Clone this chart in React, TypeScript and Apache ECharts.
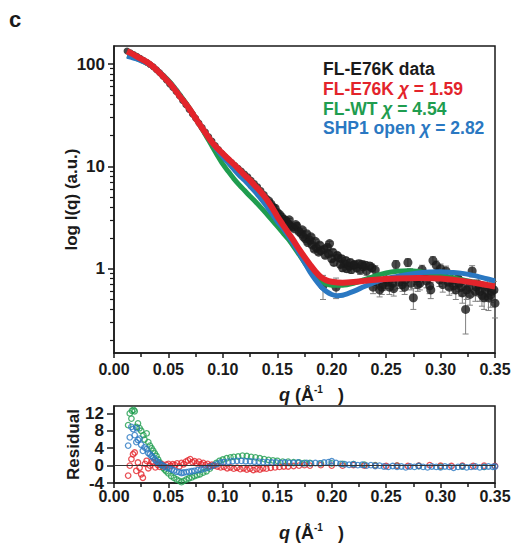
import React, { useEffect, useRef } from "react";
import * as echarts from "echarts";

const FONT = '"Liberation Sans", Arial, Helvetica, sans-serif';
const INK = "#1a1a1a";
const RED = "#e3242b";
const GREEN = "#1f9d4f";
const BLUE = "#2a78c2";

// axis ticks
const logMajorTicks = [1, 10, 100];
const logMinorTicks = [0.2, 0.3, 0.4, 0.5, 0.6, 0.7, 0.8, 0.9, 2, 3, 4, 5, 6, 7, 8, 9, 20, 30, 40, 50, 60, 70, 80, 90];
const residualTicks = [-4, 0, 4, 8, 12];

// legend lines
const legendRows = [
  { label: "FL-E76K data", chi: "", color: INK },
  { label: "FL-E76K", chi: "1.59", color: RED },
  { label: "FL-WT", chi: "4.54", color: GREEN },
  { label: "SHP1 open", chi: "2.82", color: BLUE },
];

// measured data: q (1/Å), I(q)
const dataLowQ = [
  [0.012, 134], [0.015, 129], [0.018, 124], [0.021, 119], [0.024, 114], [0.027, 109], [0.030, 104],
  [0.033, 99], [0.036, 94], [0.039, 88], [0.042, 82], [0.045, 76], [0.048, 70], [0.051, 64],
  [0.054, 59], [0.057, 54], [0.060, 49], [0.063, 44], [0.066, 40], [0.069, 36], [0.072, 32.5],
  [0.075, 29.5], [0.078, 26.5], [0.081, 24], [0.084, 21.6], [0.087, 19.5], [0.090, 17.7], [0.093, 16.0],
  [0.096, 14.6], [0.099, 13.4], [0.102, 12.4], [0.105, 11.6], [0.108, 10.9], [0.111, 10.2], [0.114, 9.6],
  [0.117, 9.0], [0.120, 8.4], [0.123, 7.9], [0.126, 7.3], [0.129, 6.8], [0.132, 6.3], [0.135, 5.8],
  [0.138, 5.3], [0.140, 4.9],
];

// measured data with error: q, I(q), error
const dataHighQ = [
  [0.142, 4.6, 0.15], [0.144, 4.3, 0.14], [0.146, 4.0, 0.13], [0.148, 3.9, 0.12], [0.150, 3.55, 0.12],
  [0.152, 3.4, 0.11], [0.154, 3.2, 0.11], [0.156, 3.05, 0.1], [0.158, 2.95, 0.1], [0.160, 2.75, 0.1],
  [0.162, 2.6, 0.09], [0.164, 2.55, 0.09], [0.166, 2.45, 0.09], [0.168, 2.6, 0.09], [0.170, 2.3, 0.09],
  [0.172, 2.2, 0.08], [0.174, 2.05, 0.08], [0.176, 1.95, 0.08], [0.178, 1.8, 0.08], [0.180, 1.9, 0.08],
  [0.182, 1.7, 0.08], [0.184, 1.55, 0.08], [0.186, 1.6, 0.08], [0.188, 1.45, 0.08], [0.190, 1.5, 0.08],
  [0.192, 0.68, 0.18], [0.194, 1.35, 0.08], [0.196, 1.62, 0.09], [0.198, 1.76, 0.09], [0.200, 1.25, 0.08],
  [0.202, 1.15, 0.08], [0.204, 0.66, 0.15], [0.206, 1.28, 0.08], [0.208, 1.1, 0.08], [0.210, 1.02, 0.08],
  [0.212, 1.12, 0.08], [0.214, 1.0, 0.08], [0.216, 1.06, 0.08], [0.218, 0.98, 0.08], [0.220, 1.08, 0.08],
  [0.223, 1.02, 0.09], [0.226, 0.97, 0.09], [0.229, 1.05, 0.09], [0.232, 0.95, 0.09], [0.235, 1.06, 0.09],
  [0.238, 0.66, 0.09], [0.241, 0.74, 0.09], [0.244, 0.62, 0.09], [0.247, 0.7, 0.09], [0.250, 0.78, 0.1],
  [0.253, 0.66, 0.1], [0.256, 0.72, 0.1], [0.259, 1.1, 0.1], [0.262, 0.74, 0.1], [0.265, 0.7, 0.1],
  [0.268, 0.78, 0.1], [0.270, 1.15, 0.1], [0.273, 0.72, 0.1], [0.275, 0.52, 0.12], [0.278, 0.8, 0.1],
  [0.281, 0.72, 0.1], [0.284, 0.88, 0.1], [0.287, 0.76, 0.11], [0.290, 0.68, 0.11], [0.293, 1.2, 0.11],
  [0.296, 1.08, 0.11], [0.299, 0.78, 0.11], [0.302, 0.7, 0.11], [0.305, 0.95, 0.11], [0.308, 0.66, 0.11],
  [0.311, 0.78, 0.11], [0.314, 0.62, 0.12], [0.317, 0.72, 0.12], [0.320, 0.58, 0.12], [0.323, 0.4, 0.17],
  [0.326, 0.66, 0.12], [0.329, 0.95, 0.12], [0.332, 0.6, 0.12], [0.335, 0.7, 0.12], [0.338, 0.55, 0.12],
  [0.341, 0.62, 0.12], [0.344, 0.52, 0.13], [0.347, 0.6, 0.13], [0.350, 0.46, 0.13],
  [0.161, 3.0, 0.1], [0.167, 2.7, 0.1], [0.173, 2.4, 0.09], [0.177, 2.2, 0.09], [0.181, 2.05, 0.09],
  [0.185, 1.85, 0.09], [0.189, 1.7, 0.09], [0.193, 1.55, 0.09], [0.197, 1.4, 0.09], [0.201, 1.45, 0.09],
  [0.205, 1.35, 0.09], [0.209, 1.25, 0.09], [0.213, 1.2, 0.09], [0.217, 1.15, 0.09], [0.221, 1.1, 0.09],
  [0.225, 1.12, 0.09], [0.228, 1.1, 0.09], [0.231, 1.08, 0.09], [0.237, 1.02, 0.09], [0.240, 0.97, 0.1],
  [0.246, 0.66, 0.1], [0.252, 0.74, 0.1], [0.257, 0.64, 0.1], [0.264, 0.82, 0.1], [0.267, 0.66, 0.1],
  [0.272, 0.9, 0.1], [0.279, 0.7, 0.1], [0.283, 0.98, 0.1], [0.288, 0.85, 0.11], [0.291, 0.62, 0.11],
  [0.297, 0.9, 0.11], [0.300, 1.0, 0.11], [0.303, 0.82, 0.11], [0.307, 0.74, 0.11], [0.312, 0.68, 0.11],
  [0.316, 0.8, 0.12], [0.319, 0.66, 0.12], [0.324, 0.62, 0.12], [0.327, 0.56, 0.12], [0.333, 0.66, 0.12],
  [0.336, 0.6, 0.12], [0.340, 0.52, 0.12], [0.343, 0.66, 0.12], [0.346, 0.55, 0.13], [0.349, 0.62, 0.13],
];

// model fits: q, I(q)
const fitE76K = [
  [0.012, 133], [0.016, 127], [0.02, 120], [0.025, 112], [0.03, 105], [0.035, 96], [0.04, 86], [0.045, 76],
  [0.05, 67], [0.055, 58], [0.06, 49], [0.065, 42], [0.07, 35.5], [0.075, 29.5], [0.08, 24.5], [0.085, 20.5],
  [0.09, 17.2], [0.095, 15.0], [0.1, 13.3], [0.105, 11.8], [0.11, 10.5], [0.115, 9.3], [0.12, 8.2],
  [0.125, 7.3], [0.13, 6.4], [0.135, 5.6], [0.14, 4.8], [0.145, 4.0], [0.15, 3.25], [0.155, 2.7],
  [0.16, 2.25], [0.165, 1.88], [0.17, 1.55], [0.175, 1.3], [0.18, 1.1], [0.185, 0.94], [0.19, 0.83],
  [0.195, 0.77], [0.2, 0.745], [0.21, 0.73], [0.22, 0.74], [0.23, 0.76], [0.24, 0.78], [0.26, 0.8],
  [0.28, 0.81], [0.3, 0.8], [0.32, 0.76], [0.34, 0.7], [0.35, 0.67],
];
const fitWT = [
  [0.012, 121], [0.016, 118], [0.02, 114], [0.025, 108], [0.03, 102], [0.035, 95], [0.04, 87], [0.045, 78],
  [0.05, 69], [0.055, 60], [0.06, 51], [0.065, 43], [0.07, 36], [0.075, 29.5], [0.08, 24], [0.085, 19.5],
  [0.09, 15.8], [0.095, 12.8], [0.1, 10.5], [0.105, 8.9], [0.11, 7.6], [0.115, 6.6], [0.12, 5.8],
  [0.125, 5.1], [0.13, 4.5], [0.135, 3.95], [0.14, 3.45], [0.145, 3.0], [0.15, 2.6], [0.155, 2.25],
  [0.16, 1.95], [0.165, 1.65], [0.17, 1.38], [0.175, 1.15], [0.18, 0.97], [0.185, 0.84], [0.19, 0.76],
  [0.195, 0.71], [0.2, 0.69], [0.21, 0.69], [0.22, 0.72], [0.23, 0.78], [0.24, 0.85], [0.25, 0.91],
  [0.26, 0.945], [0.27, 0.955], [0.28, 0.94], [0.29, 0.9], [0.3, 0.86], [0.32, 0.78], [0.34, 0.7], [0.35, 0.67],
];
const fitOpen = [
  [0.012, 119], [0.016, 116], [0.02, 113], [0.025, 108], [0.03, 102], [0.035, 95], [0.04, 87], [0.045, 77],
  [0.05, 68], [0.055, 59], [0.06, 50], [0.065, 42], [0.07, 35.5], [0.075, 29.5], [0.08, 24.5], [0.085, 20.3],
  [0.09, 17], [0.095, 14.4], [0.1, 12.4], [0.105, 10.8], [0.11, 9.4], [0.115, 8.2], [0.12, 7.3],
  [0.125, 6.4], [0.13, 5.6], [0.135, 4.8], [0.14, 4.1], [0.145, 3.45], [0.15, 2.9], [0.155, 2.5],
  [0.16, 2.1], [0.165, 1.75], [0.17, 1.42], [0.175, 1.15], [0.18, 0.93], [0.185, 0.78], [0.19, 0.67],
  [0.195, 0.6], [0.2, 0.56], [0.205, 0.545], [0.21, 0.55], [0.22, 0.6], [0.23, 0.67], [0.24, 0.74],
  [0.25, 0.8], [0.26, 0.84], [0.27, 0.88], [0.28, 0.91], [0.29, 0.93], [0.3, 0.935], [0.31, 0.92],
  [0.32, 0.9], [0.33, 0.86], [0.34, 0.81], [0.35, 0.76],
];

// residuals: q, residual
const residWT = [
  [0.013, 9.3], [0.0145, 12], [0.016, 10.8], [0.0165, 12.6], [0.018, 12.8], [0.019, 12.5], [0.0205, 8.9],
  [0.022, 9.7], [0.0235, 8.6], [0.025, 8.0], [0.027, 7.0], [0.028, 6.0], [0.03, 7.4], [0.0315, 5.4],
  [0.033, 4.6], [0.0345, 4.0], [0.036, 3.4], [0.0375, 2.8], [0.039, 2.2], [0.0405, 1.4], [0.042, 0.7],
  [0.0435, 0.1], [0.045, -0.5], [0.0465, -0.9], [0.048, -1.3], [0.05, -1.8], [0.0525, -2.4], [0.055, -2.8],
  [0.0575, -3.2], [0.06, -3.5], [0.062, -3.8], [0.064, -3.5], [0.0665, -3.2], [0.069, -2.9], [0.0715, -2.7],
  [0.074, -2.4], [0.0765, -2.2], [0.079, -2.0], [0.082, -1.6], [0.085, -1.3], [0.088, -0.7], [0.091, 0],
  [0.094, 0.6], [0.097, 1.1], [0.1, 1.4], [0.1035, 1.7], [0.107, 1.9], [0.11, 2.0], [0.114, 2.1],
  [0.118, 2.3], [0.122, 2.2], [0.126, 2.0], [0.13, 1.9], [0.134, 1.7], [0.138, 1.5], [0.142, 1.3],
  [0.146, 1.2], [0.15, 1.1], [0.155, 0.9], [0.16, 0.9], [0.165, 0.8], [0.17, 0.7], [0.175, 0.6],
  [0.18, 0.6], [0.19, 0.5], [0.2, 0.5], [0.21, 0.4], [0.22, 0.3], [0.23, 0.2], [0.24, 0.1], [0.26, 0],
  [0.28, -0.1], [0.3, -0.2], [0.32, -0.2], [0.34, -0.3],
];
const residE76K = [
  [0.013, -2.3], [0.0145, 0], [0.016, 1.5], [0.0175, 2.6], [0.019, 3.0], [0.0205, -1.2], [0.022, 0.7],
  [0.0235, -0.5], [0.025, -2.0], [0.0265, -2.8], [0.0285, 0.4], [0.03, 1.1], [0.0315, -0.6], [0.033, 0],
  [0.0345, 0.9], [0.036, 0.7], [0.038, -0.4], [0.04, 0.2], [0.042, -0.3], [0.044, 0.3], [0.046, -0.2],
  [0.048, 0.2], [0.05, 0.4], [0.052, -0.1], [0.054, 0.3], [0.056, 0.1], [0.058, 0.5], [0.06, -0.2],
  [0.062, 0.6], [0.064, 0.3], [0.066, 0.9], [0.068, 1.2], [0.07, 1.5], [0.072, 0.8], [0.074, 1.0],
  [0.076, 0.5], [0.078, 0.9], [0.08, 0.3], [0.082, 0.6], [0.084, 0.1], [0.086, 0.4], [0.088, -0.1],
  [0.09, 0.2], [0.092, 0], [0.095, -0.2], [0.098, -0.4], [0.101, -0.3], [0.104, -0.6], [0.107, -0.4],
  [0.11, -0.7], [0.113, -0.5], [0.116, -0.8], [0.119, -0.6], [0.122, -0.9], [0.125, -0.7], [0.128, -1.0],
  [0.131, -0.8], [0.134, -0.9], [0.137, -0.6], [0.14, -0.7], [0.144, -0.5], [0.148, -0.4], [0.152, -0.3],
  [0.156, -0.2], [0.16, -0.2], [0.165, -0.1], [0.17, 0], [0.175, 0.1], [0.18, 0], [0.19, 0.1], [0.2, 0],
  [0.21, 0], [0.22, 0.1], [0.23, 0], [0.24, 0], [0.25, -0.1], [0.26, 0], [0.27, -0.1], [0.28, 0],
  [0.29, 0.1], [0.3, 0], [0.31, -0.1], [0.32, 0], [0.33, -0.1], [0.34, 0], [0.35, -0.1],
];
const residOpen = [
  [0.013, 4.6], [0.0145, 6.5], [0.016, 8.9], [0.0175, 8.4], [0.019, 7.0], [0.0205, 5.4], [0.021, 8.6],
  [0.022, 5.9], [0.0235, 6.2], [0.025, 4.8], [0.0265, 3.4], [0.028, 4.2], [0.03, 3.8], [0.0315, 2.9],
  [0.033, 2.6], [0.0345, 2.2], [0.036, 1.9], [0.0375, 1.4], [0.039, 1.0], [0.0405, 0.7], [0.042, 0.4],
  [0.0435, 0.2], [0.045, 0], [0.047, -0.3], [0.049, -0.5], [0.051, -0.7], [0.053, -0.9], [0.055, -1.1],
  [0.0575, -1.4], [0.06, -1.5], [0.062, -1.7], [0.064, -1.6], [0.0665, -1.5], [0.069, -1.4], [0.0715, -1.3],
  [0.074, -1.2], [0.077, -1.0], [0.08, -0.9], [0.083, -0.7], [0.086, -0.5], [0.089, -0.2], [0.092, 0.1],
  [0.095, 0.4], [0.098, 0.7], [0.101, 0.8], [0.105, 0.9], [0.109, 1.0], [0.113, 1.1], [0.117, 1.1],
  [0.121, 1.0], [0.125, 1.0], [0.129, 0.9], [0.133, 0.9], [0.137, 0.8], [0.141, 0.8], [0.145, 0.7],
  [0.149, 0.7], [0.153, 0.6], [0.157, 0.7], [0.161, 0.6], [0.165, 0.6], [0.169, 0.7], [0.173, 0.5],
  [0.177, 0.6], [0.181, 0.5], [0.185, 0.6], [0.189, 0.5], [0.193, 0.7], [0.197, 0.8], [0.2, 1.0],
  [0.204, 0.6], [0.208, 0.4], [0.212, 0.3], [0.216, 0.2], [0.22, 0.3], [0.224, 0.1], [0.228, 0.2],
  [0.232, 0], [0.236, 0.1], [0.24, -0.1], [0.244, 0], [0.248, -0.2], [0.252, -0.3], [0.256, -0.1],
  [0.26, -0.3], [0.264, -0.2], [0.268, -0.4], [0.272, -0.2], [0.276, -0.3], [0.28, -0.1], [0.284, -0.3],
  [0.288, -0.4], [0.292, -0.2], [0.296, -0.3], [0.3, -0.4], [0.304, -0.2], [0.308, -0.3], [0.312, -0.5],
  [0.316, -0.3], [0.32, -0.2], [0.324, -0.4], [0.328, -0.3], [0.332, -0.2], [0.336, -0.4], [0.34, -0.3],
  [0.344, -0.2], [0.348, -0.3], [0.35, -0.2],
];

const axisLineStyle = { color: INK, width: 1.5 };
const labelStyle = (size: number) => ({
  fontFamily: FONT,
  fontWeight: "bold" as const,
  fontSize: size,
  color: INK,
});

const qNameRich = {
  i: { fontFamily: FONT, fontWeight: "bold", fontStyle: "italic", fontSize: 18, color: INK, lineHeight: 22 },
  n: { fontFamily: FONT, fontWeight: "bold", fontSize: 18, color: INK, lineHeight: 22 },
  s: { fontFamily: FONT, fontWeight: "bold", fontSize: 10, color: INK, lineHeight: 22, verticalAlign: "top" },
};
const qName = "{i|q}{n| (Å}{s|-1}{n|   )}";

function xAxisFor(grid: number, labelMargin: number, nameGap: number) {
  return {
    gridIndex: grid,
    type: "value",
    min: 0,
    max: 0.35,
    interval: 0.05,
    axisLine: { show: true, onZero: false, lineStyle: axisLineStyle },
    axisTick: { show: true, length: 5, lineStyle: { color: INK, width: 1.5 } },
    minorTick: { show: true, splitNumber: 2, length: 4, lineStyle: { color: INK, width: 1.5 } },
    splitLine: { show: false },
    axisLabel: {
      ...labelStyle(16),
      margin: labelMargin,
      showMinLabel: true,
      showMaxLabel: true,
      formatter: (v: number) => v.toFixed(2),
    },
    name: qName,
    nameLocation: "middle",
    nameGap,
    nameMoveOverlap: false,
    nameTextStyle: { rich: qNameRich, padding: [0, 0, 0, 14] },
  };
}

function legendGraphics() {
  const baseY = [69, 89, 108.5, 128];
  return legendRows.map((row, i) => {
    const tok = { fontFamily: FONT, fontWeight: "bold", fontSize: 17.5, fill: row.color };
    const text = row.chi ? `{n|${row.label} }{c|χ}{n| = ${row.chi}}` : `{n|${row.label}}`;
    return {
      type: "text",
      x: 323,
      y: baseY[i],
      style: {
        text,
        fill: row.color,
        fontFamily: FONT,
        fontWeight: "bold",
        fontSize: 17.5,
        verticalAlign: "middle",
        rich: { n: tok, c: { ...tok, fontStyle: "italic" } },
      },
    };
  });
}

export default function App() {
  const ref = useRef<HTMLDivElement>(null);
  useEffect(() => {
    if (!ref.current) return;
    const chart = echarts.init(ref.current, undefined, { renderer: "svg" });
    const option: any = {
      animation: false,
      backgroundColor: "#ffffff",
      grid: [
        { left: 114, top: 46, width: 381, height: 307, show: true, borderColor: INK, borderWidth: 1.5, backgroundColor: "transparent" },
        { left: 114, top: 406, width: 381, height: 77, show: true, borderColor: INK, borderWidth: 1.5, backgroundColor: "transparent" },
      ],
      xAxis: [xAxisFor(0, 8, 31), xAxisFor(1, 5, 39)],
      yAxis: [
        {
          gridIndex: 0,
          type: "log",
          logBase: 10,
          min: 0.15,
          max: 150,
          position: "left",
          axisLine: { show: true, lineStyle: axisLineStyle },
          axisTick: { show: true, length: 6, customValues: logMajorTicks, lineStyle: { color: INK, width: 1.5 } },
          axisLabel: { ...labelStyle(17), margin: 9, customValues: logMajorTicks, formatter: (v: number) => String(v) },
          splitLine: { show: false },
          name: "log I(q) (a.u.)",
          nameLocation: "middle",
          nameGap: 34,
          nameMoveOverlap: false,
          nameTextStyle: labelStyle(17),
        },
        {
          gridIndex: 0,
          type: "log",
          logBase: 10,
          min: 0.15,
          max: 150,
          position: "left",
          axisLine: { show: false },
          axisTick: { show: true, length: 4, customValues: logMinorTicks, lineStyle: { color: INK, width: 1.2 } },
          axisLabel: { show: false },
          splitLine: { show: false },
        },
        {
          gridIndex: 1,
          type: "value",
          min: -4,
          max: 13.7,
          interval: 4,
          axisLine: { show: true, onZero: false, lineStyle: axisLineStyle },
          axisTick: { show: true, length: 7, customValues: residualTicks, lineStyle: { color: INK, width: 1.5 } },
          axisLabel: {
            ...labelStyle(17),
            margin: 10,
            showMinLabel: true,
            lineHeight: 14,
            customValues: residualTicks,
          },
          splitLine: { show: false },
          name: "Residual",
          nameLocation: "middle",
          nameGap: 32,
          nameMoveOverlap: false,
          nameTextStyle: labelStyle(17),
        },
      ],
      graphic: [
        {
          type: "text",
          x: 9,
          y: 19,
          style: { text: "c", fill: INK, fontFamily: FONT, fontWeight: "bold", fontSize: 22, verticalAlign: "middle" },
        },
        ...legendGraphics(),
      ],
      series: [
        {
          name: "error",
          type: "custom",
          xAxisIndex: 0,
          yAxisIndex: 0,
          data: dataHighQ,
          encode: { x: 0, y: 1 },
          silent: true,
          renderItem: (_p: any, api: any) => {
            const q = api.value(0);
            const v = api.value(1);
            const e = api.value(2);
            const top = api.coord([q, v + e]);
            const bot = api.coord([q, Math.max(v - e, 0.16)]);
            const hw = 3;
            const st = { stroke: "#808080", lineWidth: 1 };
            return {
              type: "group",
              children: [
                { type: "line", shape: { x1: top[0], y1: top[1], x2: bot[0], y2: bot[1] }, style: st },
                { type: "line", shape: { x1: top[0] - hw, y1: top[1], x2: top[0] + hw, y2: top[1] }, style: st },
                { type: "line", shape: { x1: bot[0] - hw, y1: bot[1], x2: bot[0] + hw, y2: bot[1] }, style: st },
              ],
            };
          },
        },
        {
          name: "FL-E76K data",
          type: "scatter",
          xAxisIndex: 0,
          yAxisIndex: 0,
          data: dataLowQ,
          symbol: "circle",
          symbolSize: 7,
          itemStyle: { color: INK },
        },
        {
          name: "FL-E76K data high q",
          type: "scatter",
          xAxisIndex: 0,
          yAxisIndex: 0,
          data: dataHighQ.map((d) => [d[0], d[1]]),
          symbol: "circle",
          symbolSize: 9,
          itemStyle: { color: INK },
        },
        {
          name: "FL-WT",
          type: "line",
          xAxisIndex: 0,
          yAxisIndex: 0,
          data: fitWT,
          showSymbol: false,
          smooth: 0.3,
          lineStyle: { color: GREEN, width: 5 },
        },
        {
          name: "SHP1 open",
          type: "line",
          xAxisIndex: 0,
          yAxisIndex: 0,
          data: fitOpen,
          showSymbol: false,
          smooth: 0.3,
          lineStyle: { color: BLUE, width: 5 },
        },
        {
          name: "FL-E76K",
          type: "line",
          xAxisIndex: 0,
          yAxisIndex: 0,
          data: fitE76K,
          showSymbol: false,
          smooth: 0.3,
          lineStyle: { color: RED, width: 6 },
        },
        {
          name: "res WT",
          type: "scatter",
          xAxisIndex: 1,
          yAxisIndex: 2,
          data: residWT,
          symbol: "circle",
          symbolSize: 5.5,
          itemStyle: { color: "transparent", borderColor: GREEN, borderWidth: 1.3 },
        },
        {
          name: "res E76K",
          type: "scatter",
          xAxisIndex: 1,
          yAxisIndex: 2,
          data: residE76K,
          symbol: "circle",
          symbolSize: 5.5,
          itemStyle: { color: "transparent", borderColor: RED, borderWidth: 1.3 },
        },
        {
          name: "res open",
          type: "scatter",
          xAxisIndex: 1,
          yAxisIndex: 2,
          data: residOpen,
          symbol: "circle",
          symbolSize: 5.5,
          itemStyle: { color: "transparent", borderColor: BLUE, borderWidth: 1.3 },
          markLine: {
            silent: true,
            symbol: "none",
            label: { show: false },
            lineStyle: { color: "#333", width: 1, type: "solid" },
            data: [{ yAxis: 0 }],
          },
        },
      ],
    };
    chart.setOption(option);
    return () => chart.dispose();
  }, []);
  return (
    <div
      ref={ref}
      style={{ position: "fixed", left: 0, top: 0, width: 518, height: 550, background: "#fff" }}
    />
  );
}
